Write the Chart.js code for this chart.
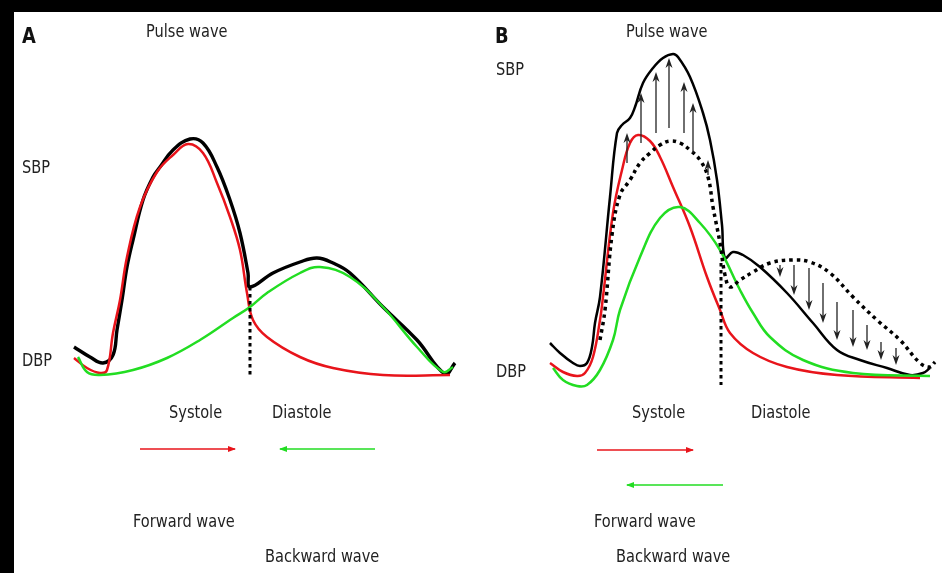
<!DOCTYPE html>
<html>
<head>
<meta charset="utf-8">
<script src="https://cdn.jsdelivr.net/npm/chart.js@4"></script>
<style>
body{margin:0;background:#000;width:942px;height:573px;overflow:hidden;position:relative}
#paper{position:absolute;left:14px;top:12px;width:928px;height:561px;background:#fff}
canvas{position:absolute;top:0}
.lbl{position:absolute;font-family:'DejaVu Sans',sans-serif;font-size:18px;line-height:18px;color:#222;transform:scaleX(0.81);transform-origin:0 0;white-space:nowrap}
.big{font-weight:bold;font-size:21px;line-height:21px;transform:scaleX(0.85);color:#111}
svg{position:absolute;left:0;top:0}
</style>
</head>
<body>
<div id="paper"></div>
<canvas id="cA" width="471" height="573" style="left:0"></canvas>
<canvas id="cB" width="471" height="573" style="left:471px"></canvas>
<svg width="942" height="573">
  <defs>
    <marker id="hr" markerWidth="8" markerHeight="6" refX="7" refY="3" orient="auto" markerUnits="userSpaceOnUse"><path d="M0,0 L8,3 L0,6 Z" fill="#e8141b"/></marker>
    <marker id="hg" markerWidth="8" markerHeight="6" refX="7" refY="3" orient="auto" markerUnits="userSpaceOnUse"><path d="M0,0 L8,3 L0,6 Z" fill="#22dd22"/></marker>
  </defs>
  <line x1="140" y1="449" x2="235" y2="449" stroke="#e8141b" stroke-width="1.6" marker-end="url(#hr)"/>
  <line x1="375" y1="449" x2="280" y2="449" stroke="#22dd22" stroke-width="1.6" marker-end="url(#hg)"/>
  <line x1="597" y1="450" x2="693" y2="450" stroke="#e8141b" stroke-width="1.6" marker-end="url(#hr)"/>
  <line x1="723" y1="485" x2="627" y2="485" stroke="#22dd22" stroke-width="1.6" marker-end="url(#hg)"/>
</svg>
<div class="lbl big" style="left:22px;top:26px">A</div>
<div class="lbl big" style="left:495px;top:26px">B</div>
<div class="lbl" style="left:146px;top:22px">Pulse wave</div>
<div class="lbl" style="left:626px;top:22px">Pulse wave</div>
<div class="lbl" style="left:22px;top:158px">SBP</div>
<div class="lbl" style="left:496px;top:60px">SBP</div>
<div class="lbl" style="left:22px;top:351px">DBP</div>
<div class="lbl" style="left:496px;top:362px">DBP</div>
<div class="lbl" style="left:169px;top:403px">Systole</div>
<div class="lbl" style="left:272px;top:403px">Diastole</div>
<div class="lbl" style="left:632px;top:403px">Systole</div>
<div class="lbl" style="left:751px;top:403px">Diastole</div>
<div class="lbl" style="left:133px;top:512px">Forward wave</div>
<div class="lbl" style="left:594px;top:512px">Forward wave</div>
<div class="lbl" style="left:265px;top:547px">Backward wave</div>
<div class="lbl" style="left:616px;top:547px">Backward wave</div>
<script>
// Time (ms) and pressure (mmHg) values, panel A (normal)
const aPulseT = [10,50,82.5,107.5,117.5,130,142.5,157.5,182.5,207.5,225,257.5,300,332.5,367.5,400,425,445,450,507.5,575,617.5,657.5,700,782.5,867.5,937.5,962.5];
const aPulseP = [73.25,70.75,69.25,71.25,77.5,85,93.25,100,110,115.75,118.25,122.5,125.25,124.25,118.25,110,101.75,91.75,88.25,91.75,94.5,95.5,94.25,91.75,83.25,75,66.5,69.25];
const aFwdT = [10,42.5,75,92.5,107.5,125,142.5,175,217.5,257.5,295,332.5,367.5,400,425,442.5,457.5,492.5,575,657.5,782.5,950];
const aFwdP = [70.5,68,66.75,67.5,76.75,85,95.75,108.25,117,121.25,124,121.75,114.25,105.75,97.5,86.75,80,75.75,70.75,68,66.25,66.25];
const aBwdT = [20,42.5,75,157.5,242.5,325,407.5,450,492.5,575,625,700,782.5,867.5,932.5,957.5];
const aBwdP = [70.75,67,66.25,67.5,70.5,75,80.5,83.25,86.75,91.75,93.25,90.75,83.25,73.25,67,68.25];
const aEndSysT = [450,450];
const aEndSysP = [88.25,65.5];

// Panel B (stiff arteries)
const bPulseT = [25,50,82.5,100,117.5,130,137.5,150,175,192.5,205,225,237.5,257.5,282.5,307.5,332.5,345,375,407.5,425,442.5,455,462.5,482.5,507.5,550,617.5,682.5,742.5,800,867.5,925,957.5,975];
const bPulseP = [74.25,71.75,69.25,68.5,69.25,73.25,79.25,85.75,110.75,126.75,128.75,130.5,133.25,139.25,143,145.5,146.5,145.75,140.75,131.75,125,115,103.75,95.5,97,96.25,93.25,86.75,79.25,72.5,70,68,66.25,66.75,68];
const bFwdT = [25,57.5,92.5,112.5,132.5,150,157.5,182.5,205,225,245,275,300,332.5,375,417.5,450,475,532.5,617.5,742.5,950];
const bFwdP = [69.25,67,66,66.75,70.75,80,85.75,106.75,117.5,124.25,126.25,124.75,120.75,113.25,103.25,90.75,82.5,76.75,71.75,68.25,66.25,65.5];
const bBwdT = [32.5,57.5,92.5,117.5,150,182.5,200,250,300,350,400,450,500,532.5,575,657.5,782.5,975];
const bBwdP = [68,65,63.5,63.75,67.5,75,82.5,95.75,105.5,108.25,104.25,97.5,87.5,81.75,75.75,70,66.75,66];
const bNormalT = [150,162.5,180,200,225,250,275,300,325,350,375,400,420,432.5,450,462.5,475,500,532.5,575,632.5,675,725,782.5,842.5,900,950,975,987.5];
const bNormalP = [75,82.5,101.25,111.25,115,119.25,121.75,123.75,124.75,124.25,122.5,120,115.75,108.25,99.25,91.25,88.25,90,92,94.25,95,94.5,91.75,85.75,80,75,69.25,68.25,69.5];
const bEndSysT = [452.5,452.5];
const bEndSysP = [94.25,63.75];
// Augmentation arrows (systole, upward) and reduction arrows (diastole, downward)
const upT = [217.5,252.5,290,322.5,360,382.5,420];
const upFrom = [119.25,124.25,126.75,128,126.75,121.75,116.25];
const upTo = [126.75,136.75,142,145.5,139.5,134.25,120];
const downT = [600,635,672.5,707.5,742.5,782.5,817.5,852.5,890];
const downFrom = [93.75,93.75,93,89.25,84.5,82.5,78.75,74.5,73];
const downTo = [90.75,86.25,82.5,79.25,75,73.25,72.5,70,68.75];

const RED = '#e8141b', GREEN = '#22dd22', BLACK = '#000';
const pts = (t, p) => t.map((v, i) => ({x: v, y: p[i]}));
function ds(t, p, color, width, dash, tension) {
  return {data: pts(t, p), borderColor: color, borderWidth: width, borderDash: dash || [],
    pointRadius: 0, tension: tension === undefined ? 0.4 : tension, fill: false, clip: false,
    borderCapStyle: 'butt', borderJoinStyle: 'round'};
}
const arrowPlugin = {
  id: 'arrows',
  afterDatasetsDraw(chart, args, opts) {
    if (!opts.list) return;
    const ctx = chart.ctx, xs = chart.scales.x, ys = chart.scales.y;
    ctx.save();
    ctx.strokeStyle = '#222'; ctx.fillStyle = '#222'; ctx.lineWidth = 1.3;
    opts.list.forEach(set => {
      set.t.forEach((t, i) => {
        const x = xs.getPixelForValue(t);
        const y0 = ys.getPixelForValue(set.from[i]);
        const y1 = ys.getPixelForValue(set.to[i]);
        const dir = y1 < y0 ? -1 : 1;
        ctx.beginPath(); ctx.moveTo(x, y0); ctx.lineTo(x, y1 - dir * 6); ctx.stroke();
        ctx.beginPath(); ctx.moveTo(x, y1); ctx.lineTo(x - 3.5, y1 - dir * 10); ctx.lineTo(x, y1 - dir * 7); ctx.lineTo(x + 3.5, y1 - dir * 10); ctx.closePath(); ctx.fill();
      });
    });
    ctx.restore();
  }
};
function makeChart(id, datasets, padLeft, padRight, arrows) {
  return new Chart(document.getElementById(id), {
    type: 'line',
    data: {datasets},
    options: {
      responsive: false, animation: false, devicePixelRatio: 1,
      layout: {padding: {left: padLeft, right: padRight, top: 40, bottom: 173}},
      plugins: {legend: {display: false}, tooltip: {enabled: false}, arrows: {list: arrows}},
      scales: {
        x: {type: 'linear', min: 0, max: 1000, display: false},
        y: {type: 'linear', min: 60, max: 150, display: false}
      }
    },
    plugins: [arrowPlugin]
  });
}
makeChart('cA', [
  ds(aEndSysT, aEndSysP, BLACK, 3, [3.5, 3.5], 0),
  ds(aBwdT, aBwdP, GREEN, 2.5),
  ds(aFwdT, aFwdP, RED, 2.5),
  ds(aPulseT, aPulseP, BLACK, 3.4)
], 70, 1, null);
makeChart('cB', [
  ds(bEndSysT, bEndSysP, BLACK, 3, [3.5, 3.5], 0),
  ds(bNormalT, bNormalP, BLACK, 3.5, [3.5, 4]),
  ds(bBwdT, bBwdP, GREEN, 2.5),
  ds(bFwdT, bFwdP, RED, 2.5),
  ds(bPulseT, bPulseP, BLACK, 2.5)
], 69, 2, [{t: upT, from: upFrom, to: upTo}, {t: downT, from: downFrom, to: downTo}]);
</script>
</body>
</html>
